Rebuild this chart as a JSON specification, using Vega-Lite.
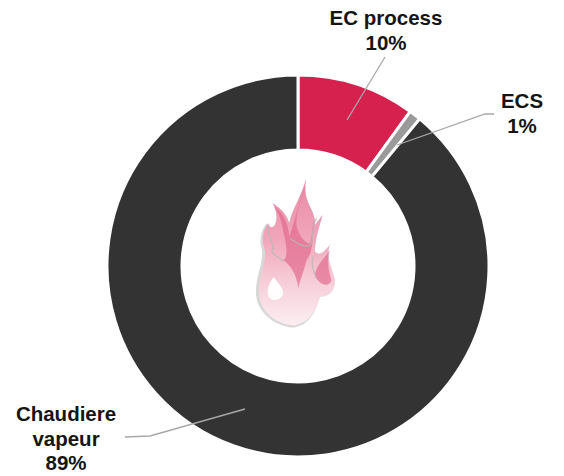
{
"$schema":"https://vega.github.io/schema/vega-lite/v6.json",
"width":564,"height":476,"padding":0,"autosize":{"type":"none"},
"background":"white",
"config":{"view":{"stroke":null}},
"datasets":{
"slices":[{"poste":"EC process","part":10,"rang":1},{"poste":"ECS","part":1,"rang":2},{"poste":"Chaudiere vapeur","part":89,"rang":3}],
"leaders":[
{"poste":"EC process","rang":1,"px":385,"py":57},{"poste":"EC process","rang":2,"px":347,"py":120},
{"poste":"ECS","rang":1,"px":494,"py":114},{"poste":"ECS","rang":2,"px":485,"py":114},{"poste":"ECS","rang":3,"px":397,"py":145},
{"poste":"Chaudiere vapeur","rang":1,"px":125,"py":437},{"poste":"Chaudiere vapeur","rang":2,"px":150,"py":436},{"poste":"Chaudiere vapeur","rang":3,"px":245,"py":409}],
"labels":[
{"label":"EC process\n10%","px":386,"py":19},
{"label":"ECS\n1%","px":522,"py":102},
{"label":"Chaudiere\nvapeur\n89%","px":66,"py":415}],
"flame":[{"part":"flamme"}]
},
"layer":[
{"data":{"name":"slices"},
 "mark":{"type":"arc","outerRadius":191,"innerRadius":116,"stroke":"white","strokeWidth":3},
 "encoding":{
  "x":{"datum":298,"type":"quantitative","scale":{"domain":[0,564],"range":[0,564],"nice":false},"axis":null},
  "y":{"datum":266,"type":"quantitative","scale":{"domain":[0,476],"range":[0,476],"nice":false},"axis":null},
  "theta":{"field":"part","type":"quantitative","stack":true},
  "order":{"field":"rang","type":"ordinal"},
  "color":{"field":"poste","type":"nominal","legend":null,"scale":{"domain":["EC process","ECS","Chaudiere vapeur"],"range":["#d6214f","#9a9a9a","#333333"]}}}},
{"data":{"name":"leaders"},
 "mark":{"type":"line","color":"#a8a8a8","strokeWidth":1.3},
 "encoding":{
  "x":{"field":"px","type":"quantitative","axis":null,"scale":{"domain":[0,564],"range":[0,564],"nice":false}},
  "y":{"field":"py","type":"quantitative","axis":null,"scale":{"domain":[0,476],"range":[0,476],"nice":false}},
  "detail":{"field":"poste"},
  "order":{"field":"rang","type":"quantitative"}}},
{"data":{"name":"labels"},
 "mark":{"type":"text","font":"Liberation Sans","fontWeight":"bold","fontSize":20.5,"color":"#151515","lineBreak":"\n","lineHeight":24.5,"align":"center","baseline":"middle"},
 "encoding":{
  "x":{"field":"px","type":"quantitative","axis":null,"scale":{"domain":[0,564],"range":[0,564],"nice":false}},
  "y":{"field":"py","type":"quantitative","axis":null,"scale":{"domain":[0,476],"range":[0,476],"nice":false}},
  "text":{"field":"label"}}},
{"data":{"name":"flame"},
 "mark":{"type":"point","filled":true,"size":0.444,"opacity":0.4,"color":"#9a9a9a",
  "shape":"M280,503 C215,496 165,450 168,390 C170,340 190,310 186,270 C178,245 180,215 200,190 C210,205 215,205 225,195 C235,170 228,150 218,130 C250,150 262,170 268,190 C275,150 305,110 318,58 C312,100 320,120 335,150 C345,170 345,185 345,195 C352,185 360,175 368,165 C358,200 345,240 345,275 C360,290 372,275 390,255 C375,290 395,320 405,360 C405,400 380,410 360,410 C350,450 330,497 280,503 Z"},
 "encoding":{"x":{"datum":200,"type":"quantitative"},"y":{"datum":160,"type":"quantitative"}}},
{"data":{"name":"flame"},
 "mark":{"type":"point","filled":true,"size":0.444,"opacity":1,
  "color":{"gradient":"linear","x1":0,"y1":1,"x2":0,"y2":0,"stops":[{"offset":0,"color":"#fbeef1"},{"offset":0.3,"color":"#f6cdd8"},{"offset":0.6,"color":"#f0a5ba"},{"offset":1,"color":"#e98aa6"}]},
  "shape":"M280,497 C220,490 175,450 177,390 C178,340 200,310 195,270 C185,245 185,215 205,190 C210,205 215,205 225,195 C235,170 228,150 218,130 C250,150 262,170 268,190 C275,150 305,110 318,58 C312,100 320,120 335,150 C345,170 345,185 345,195 C352,185 360,175 368,165 C358,200 345,240 345,275 C360,290 372,275 390,255 C375,290 395,320 405,360 C405,400 380,410 360,410 C350,450 330,490 280,497 Z"},
 "encoding":{"x":{"datum":200,"type":"quantitative"},"y":{"datum":160,"type":"quantitative"}}},
{"data":{"name":"flame"},
 "mark":{"type":"point","filled":true,"size":0.444,"color":"#e0668c","opacity":0.65,
  "shape":"M318,75 C305,120 285,160 290,200 C300,235 325,255 330,250 C340,225 335,190 345,180 C335,210 345,270 320,300 C310,340 300,360 295,385 C290,340 270,315 250,300 C265,295 260,250 250,215 C245,180 235,160 225,140 C250,160 265,190 268,230 C285,180 300,120 318,75 Z M390,270 C370,300 345,320 345,350 C360,375 385,385 395,360 C385,335 380,300 390,270 Z"},
 "encoding":{"x":{"datum":200,"type":"quantitative"},"y":{"datum":160,"type":"quantitative"}}},
{"data":{"name":"flame"},
 "mark":{"type":"point","filled":false,"size":0.444,"color":"#b9b9b9","opacity":0.9,"strokeWidth":1.2,
  "shape":"M205,195 C195,225 230,250 215,275 C225,290 245,295 250,305 M270,235 C290,250 320,270 335,250 C340,225 335,195 350,175 M340,290 C330,310 345,345 350,355"},
 "encoding":{"x":{"datum":200,"type":"quantitative"},"y":{"datum":160,"type":"quantitative"}}},
{"data":{"name":"flame"},
 "mark":{"type":"point","filled":true,"size":0.444,"color":"#ffffff","opacity":0.95,
  "shape":"M222,352 C205,370 198,395 207,412 C220,428 245,420 250,400 C250,385 235,370 222,352 Z"},
 "encoding":{"x":{"datum":200,"type":"quantitative"},"y":{"datum":160,"type":"quantitative"}}}
]
}
